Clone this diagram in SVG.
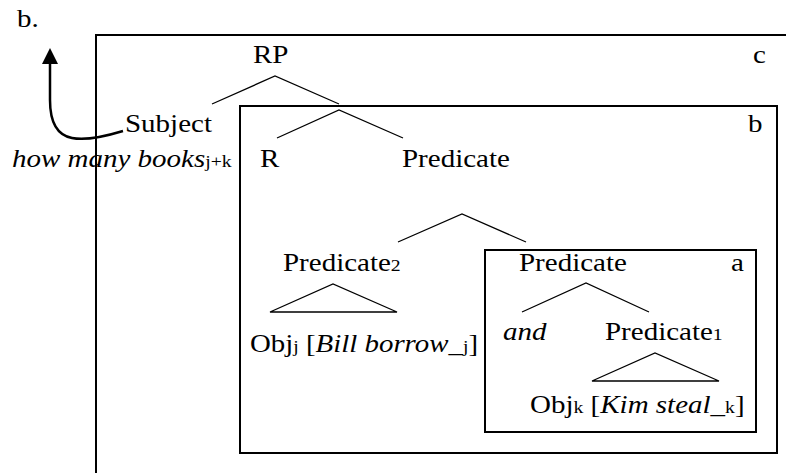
<svg xmlns="http://www.w3.org/2000/svg" width="786" height="473" viewBox="0 0 786 473">
<style>
text{font-family:"Liberation Serif","Times New Roman",serif;font-size:25px;fill:#000}
.i{font-style:italic}
.s{font-size:17px;font-style:normal}
.ln{stroke:#000;stroke-width:1.3;fill:none}
.bx{stroke:#000;stroke-width:2;fill:none}
</style>
<g id="frames">
<path class="bx" d="M96,473 V35 H786"/>
<rect class="bx" x="240" y="106" width="537" height="347"/>
<rect class="bx" x="485" y="250" width="271" height="182"/>
</g>
<g id="labels">
<text transform="translate(17,27) scale(1.16,1)">b.</text>
<text transform="translate(753,63) scale(1.16,1)">c</text>
<text transform="translate(748,132) scale(1.16,1)">b</text>
<text transform="translate(731,271) scale(1.16,1)">a</text>
</g>
<g id="n-rp"><text transform="translate(253,63) scale(1.16,1)">RP</text></g>
<g id="n-subject"><text transform="translate(125,132) scale(1.16,1)">Subject</text><text transform="translate(12,167) scale(1.16,1)"><tspan class="i">how many books</tspan><tspan class="s">j+k</tspan></text></g>
<g id="n-r"><text transform="translate(260,167) scale(1.16,1)">R</text></g>
<g id="n-pred"><text transform="translate(402,167) scale(1.16,1)">Predicate</text></g>
<g id="n-pred2"><text transform="translate(283,271) scale(1.16,1)">Predicate<tspan class="s">2</tspan></text></g>
<g id="n-objj"><text transform="translate(250,352) scale(1.155,1)">Obj<tspan class="s">j</tspan> [<tspan class="i">Bill borrow</tspan>_<tspan class="s">j</tspan>]</text></g>
<g id="n-preda"><text transform="translate(519,271) scale(1.16,1)">Predicate</text></g>
<g id="n-and"><text transform="translate(503,340) scale(1.16,1)" class="i">and</text></g>
<g id="n-pred1"><text transform="translate(605,340) scale(1.16,1)">Predicate<tspan class="s">1</tspan></text></g>
<g id="n-objk"><text transform="translate(530,413) scale(1.16,1)">Obj<tspan class="s">k</tspan> [<tspan class="i">Kim steal</tspan>_<tspan class="s">k</tspan>]</text></g>
<g id="connectors">
<path class="ln" d="M212,104 L275,76 L339,104"/>
<path class="ln" d="M277,138 L339,110 L403,138"/>
<path class="ln" d="M398,242 L462,214 L526,242"/>
<path class="ln" d="M270,312 L333,284 L397,312 Z"/>
<path class="ln" d="M522,312 L586,283 L649,312"/>
<path class="ln" d="M592,381 L655,353 L719,381 Z"/>
<path d="M123,131 C100,138 82,140 72,138 C56,135 50,120 50,100 L50,62" fill="none" stroke="#000" stroke-width="2.5"/>
<path d="M50,48 L42,64 L58,64 Z" fill="#000"/>
</g>
</svg>
